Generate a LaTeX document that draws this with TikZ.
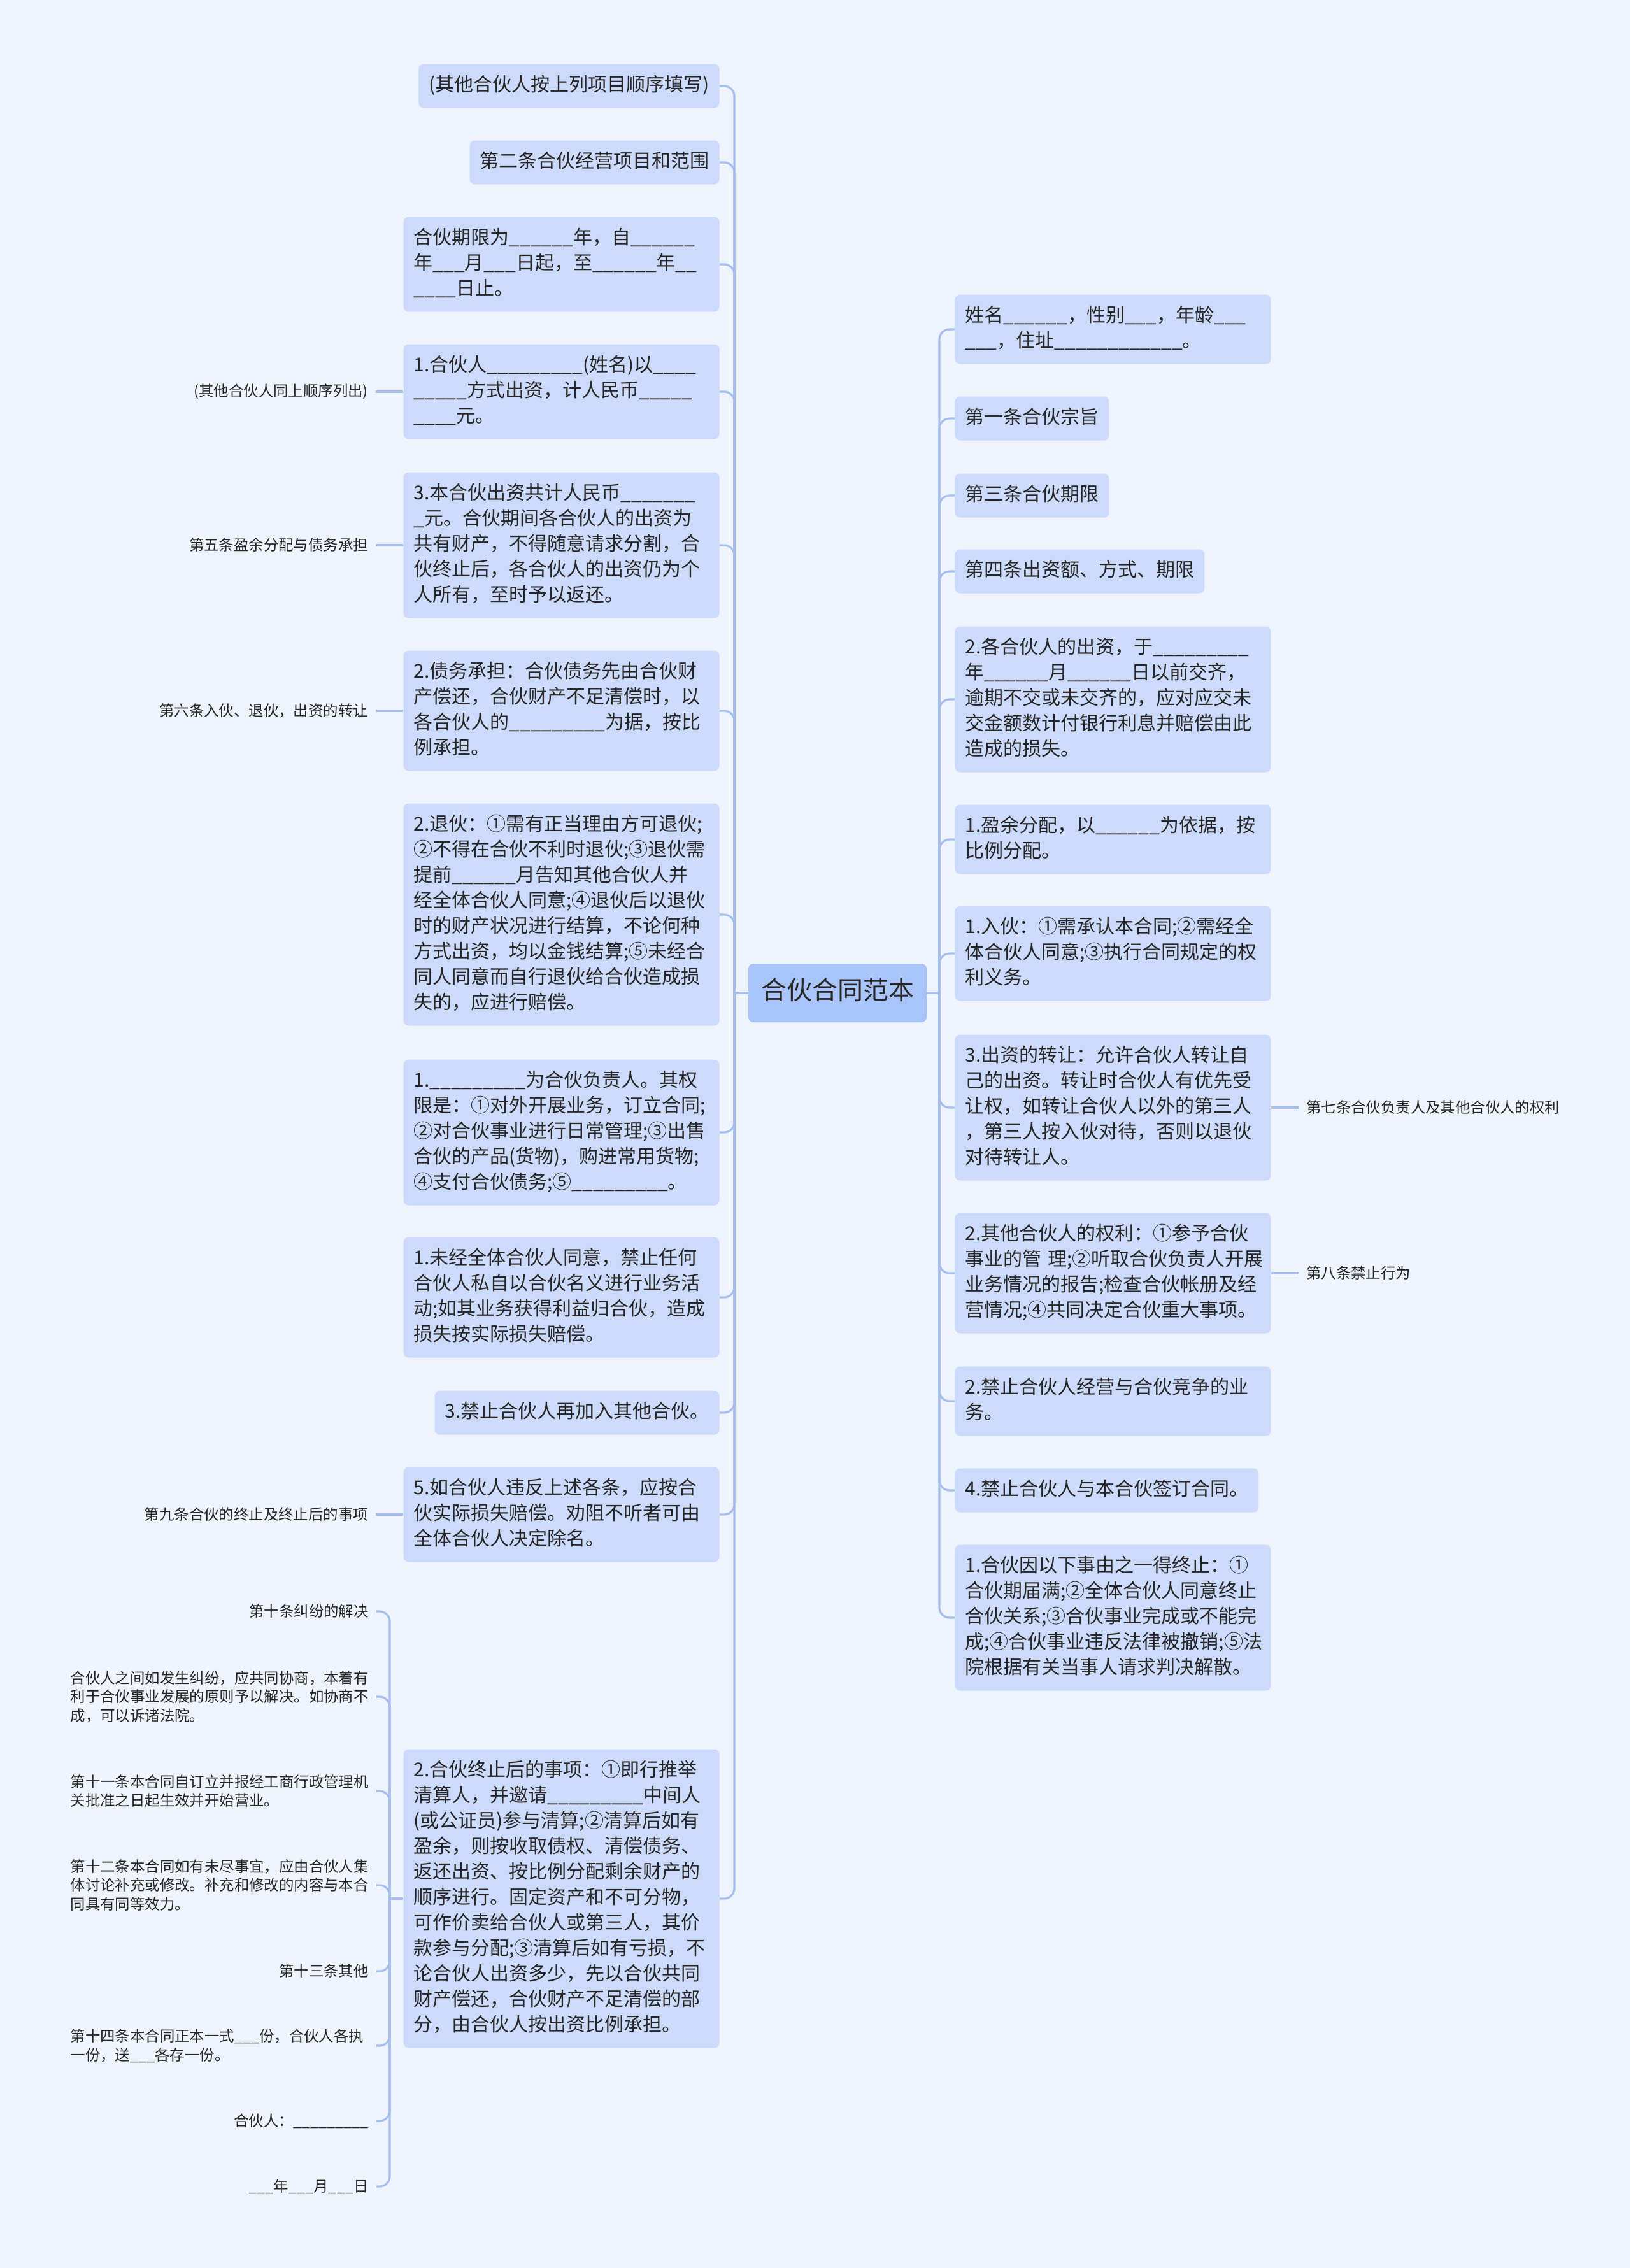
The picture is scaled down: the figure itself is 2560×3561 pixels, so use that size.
\documentclass[tikz,border=0pt]{standalone}
\usepackage{fontspec}
\setmainfont{Noto Sans CJK SC}
\usetikzlibrary{positioning}

\definecolor{bgcol}{HTML}{EFF4FC}
\definecolor{boxcol}{HTML}{CCDBFB}
\definecolor{rootcol}{HTML}{A9C4F8}
\definecolor{linecol}{HTML}{A6BFF0}
\definecolor{txtcol}{HTML}{262626}

\newcommand{\blank}[1]{\foreach \k in {1,...,#1}{\_}}

\tikzset{
    box/.style={fill=boxcol, rounded corners=4pt, inner xsep=8pt, inner ysep=7.25pt,
        text=txtcol, font=\fontsize{15}{20}\selectfont,
        execute at begin node=\strut, execute at end node=\strut},
    para/.style={box, text width=232pt, align=left},
    note/.style={inner xsep=6pt, inner ysep=2pt, text=txtcol,
        font=\fontsize{11.7}{14.8}\selectfont},
    notepara/.style={note, text width=234pt, align=left},
    link/.style={draw=linecol, line width=1.6pt},
}

\begin{document}
\begin{tikzpicture}[x=0.5pt, y=-0.5pt]
            \fill[bgcol] (0,0) rectangle (2560,3561);
            \useasboundingbox (0,0) rectangle (2560,3561);

            % centre
            \node[box, fill=rootcol, inner xsep=10pt, inner ysep=10pt,
                font=\fontsize{20}{26}\selectfont] (root) at (1315,1559) {合伙合同范本};
            \coordinate (lj) at (1153,1559);
            \coordinate (rj) at (1475,1559);

            % left side
            \node[box, anchor=east] (L1) at (1130,135) {(其他合伙人按上列项目顺序填写)};
            \node[box, anchor=east] (L2) at (1130,255) {第二条合伙经营项目和范围};
            \node[para, anchor=east] (L3) at (1130,415) {合伙期限为\blank{6}年，自\blank{6}\\年\blank{3}月\blank{3}日起，至\blank{6}年\blank{2}\\\blank{4}日止。};
            \node[para, anchor=east] (L4) at (1130,615) {1.合伙人\blank{9}(姓名)以\blank{4}\\\blank{5}方式出资，计人民币\blank{5}\\\blank{4}元。};
            \node[para, anchor=east] (L5) at (1130,856) {3.本合伙出资共计人民币\blank{7}\\\blank{1}元。合伙期间各合伙人的出资为\\共有财产，不得随意请求分割，合\\伙终止后，各合伙人的出资仍为个\\人所有，至时予以返还。};
            \node[para, anchor=east] (L6) at (1130,1116) {2.债务承担：合伙债务先由合伙财\\产偿还，合伙财产不足清偿时，以\\各合伙人的\blank{9}为据，按比\\例承担。};
            \node[para, anchor=east] (L7) at (1130,1436) {2.退伙：①需有正当理由方可退伙;\\②不得在合伙不利时退伙;③退伙需\\提前\blank{6}月告知其他合伙人并\\经全体合伙人同意;④退伙后以退伙\\时的财产状况进行结算，不论何种\\方式出资，均以金钱结算;⑤未经合\\同人同意而自行退伙给合伙造成损\\失的，应进行赔偿。};
            \node[para, anchor=east] (L8) at (1130,1778) {1.\blank{9}为合伙负责人。其权\\限是：①对外开展业务，订立合同;\\②对合伙事业进行日常管理;③出售\\合伙的产品(货物)，购进常用货物;\\④支付合伙债务;⑤\blank{9}。};
            \node[para, anchor=east] (L9) at (1130,2037) {1.未经全体合伙人同意，禁止任何\\合伙人私自以合伙名义进行业务活\\动;如其业务获得利益归合伙，造成\\损失按实际损失赔偿。};
            \node[box, anchor=east] (L10) at (1130,2218) {3.禁止合伙人再加入其他合伙。};
            \node[para, anchor=east] (L11) at (1130,2378) {5.如合伙人违反上述各条，应按合\\伙实际损失赔偿。劝阻不听者可由\\全体合伙人决定除名。};
            \node[para, anchor=east] (L12) at (1130,2981) {2.合伙终止后的事项：①即行推举\\清算人，并邀请\blank{9}中间人\\(或公证员)参与清算;②清算后如有\\盈余，则按收取债权、清偿债务、\\返还出资、按比例分配剩余财产的\\顺序进行。固定资产和不可分物，\\可作价卖给合伙人或第三人，其价\\款参与分配;③清算后如有亏损，不\\论合伙人出资多少，先以合伙共同\\财产偿还，合伙财产不足清偿的部\\分，由合伙人按出资比例承担。};

            \node[note, left=21.5pt of L4] (la4) {(其他合伙人同上顺序列出)};
            \node[note, left=21.5pt of L5] (la5) {第五条盈余分配与债务承担};
            \node[note, left=21.5pt of L6] (la6) {第六条入伙、退伙，出资的转让};
            \node[note, left=21.5pt of L11] (la11) {第九条合伙的终止及终止后的事项};

            % bottom left group
            \coordinate (bj) at (612,2981);
            \node[note, anchor=east] (b1) at (591,2530) {第十条纠纷的解决};
            \node[notepara, anchor=east] (b2) at (591,2664) {合伙人之间如发生纠纷，应共同协商，本着有\\利于合伙事业发展的原则予以解决。如协商不\\成，可以诉诸法院。};
            \node[notepara, anchor=east] (b3) at (591,2812) {第十一条本合同自订立并报经工商行政管理机\\关批准之日起生效并开始营业。};
            \node[notepara, anchor=east] (b4) at (591,2960) {第十二条本合同如有未尽事宜，应由合伙人集\\体讨论补充或修改。补充和修改的内容与本合\\同具有同等效力。};
            \node[note, anchor=east] (b5) at (591,3095) {第十三条其他};
            \node[notepara, anchor=east] (b6) at (591,3212) {第十四条本合同正本一式\blank{3}份，合伙人各执\\一份，送\blank{3}各存一份。};
            \node[note, anchor=east] (b7) at (591,3330) {合伙人：\blank{9}};
            \node[note, anchor=east] (b8) at (591,3433) {\blank{3}年\blank{3}月\blank{3}日};

            % right side
            \node[para, anchor=west] (R1) at (1499,517) {姓名\blank{6}，性别\blank{3}，年龄\blank{3}\\\blank{3}，住址\blank{12}。};
            \node[box, anchor=west] (R2) at (1499,657) {第一条合伙宗旨};
            \node[box, anchor=west] (R3) at (1499,778) {第三条合伙期限};
            \node[box, anchor=west] (R4) at (1499,897) {第四条出资额、方式、期限};
            \node[para, anchor=west] (R5) at (1499,1098) {2.各合伙人的出资，于\blank{9}\\年\blank{6}月\blank{6}日以前交齐，\\逾期不交或未交齐的，应对应交未\\交金额数计付银行利息并赔偿由此\\造成的损失。};
            \node[para, anchor=west] (R6) at (1499,1318) {1.盈余分配，以\blank{6}为依据，按\\比例分配。};
            \node[para, anchor=west] (R7) at (1499,1497) {1.入伙：①需承认本合同;②需经全\\体合伙人同意;③执行合同规定的权\\利义务。};
            \node[para, anchor=west] (R8) at (1499,1739) {3.出资的转让：允许合伙人转让自\\己的出资。转让时合伙人有优先受\\让权，如转让合伙人以外的第三人\\，第三人按入伙对待，否则以退伙\\对待转让人。};
            \node[para, anchor=west] (R9) at (1499,1999) {2.其他合伙人的权利：①参予合伙\\事业的管~理;②听取合伙负责人开展\\业务情况的报告;检查合伙帐册及经\\营情况;④共同决定合伙重大事项。};
            \node[para, anchor=west] (R10) at (1499,2200) {2.禁止合伙人经营与合伙竞争的业\\务。};
            \node[box, anchor=west] (R11) at (1499,2340) {4.禁止合伙人与本合伙签订合同。};
            \node[para, anchor=west] (R12) at (1499,2540) {1.合伙因以下事由之一得终止：①\\合伙期届满;②全体合伙人同意终止\\合伙关系;③合伙事业完成或不能完\\成;④合伙事业违反法律被撤销;⑤法\\院根据有关当事人请求判决解散。};

            \node[note, right=21.5pt of R8] (ra8) {第七条合伙负责人及其他合伙人的权利};
            \node[note, right=21.5pt of R9] (ra9) {第八条禁止行为};

            % connectors
            \draw[link] (root.west) -- (lj);
            \draw[link] (root.east) -- (rj);
            \foreach \i in {1,...,12}{
                \draw[link, rounded corners=8pt] (lj) |- (L\i.east);
                \draw[link, rounded corners=8pt] (rj) |- (R\i.west);
            }
            \foreach \i in {4,5,6,11}{
                \draw[link] (L\i.west) -- (la\i.east);
            }
            \foreach \i in {8,9}{
                \draw[link] (R\i.east) -- (ra\i.west);
            }
            \draw[link] (L12.west) -- (bj);
            \foreach \i in {1,...,8}{
                \draw[link, rounded corners=8pt] (bj) |- (b\i.east);
            }
        \end{tikzpicture}
\end{document}
